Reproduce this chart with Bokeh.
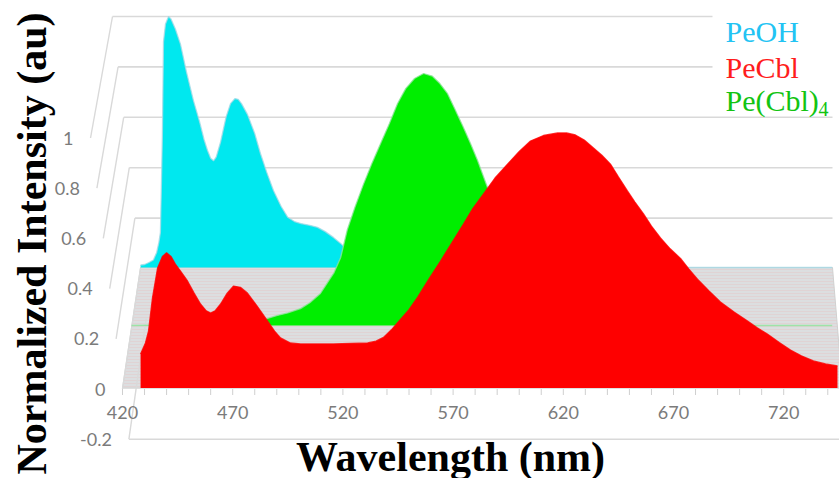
import math
from bokeh.plotting import figure
from bokeh.models import Range1d, BoxAnnotation
from bokeh.core.properties import value
from bokeh.embed import file_html
from bokeh.resources import INLINE

# ---------------- data ----------------
series_names = ["PeOH", "PeCbl", "Pe(Cbl)", "4"]

peoh_wl = [428.2, 430, 432, 434, 435.5, 436.5, 437.2, 437.7, 438.1, 438.6, 439.5, 440.9, 442, 444, 446.3,
           449, 452.2, 455, 457, 458.6, 460, 461.3, 462.5, 464.5, 467, 469, 471, 472.5, 474, 476.7,
           480, 482.6, 485.5, 488.5, 492, 495, 498, 501, 505, 508.5, 512, 515.7, 519, 522, 525,
           530, 540, 560, 600, 742]
peoh_int = [0.01, 0.012, 0.02, 0.03, 0.06, 0.1, 0.14, 0.35, 0.53, 0.9, 0.97, 1.0, 0.99, 0.95, 0.89,
            0.78, 0.665, 0.58, 0.51, 0.466, 0.435, 0.425, 0.44, 0.5, 0.6, 0.653, 0.673, 0.67, 0.653, 0.61,
            0.534, 0.454, 0.378, 0.307, 0.243, 0.2, 0.183, 0.175, 0.168, 0.16, 0.143, 0.12, 0.096, 0.07, 0.045,
            0.02, 0.01, 0.005, 0.0, 0.0]

pecbl_wl = [428.2, 430.4, 431.8, 433.6, 435.9, 438.1, 440.0, 442, 444, 446.5, 449.5, 452.5, 455.4, 458,
            460, 462, 464.5, 467.5, 470.4, 473.5, 476.7, 481, 485.8, 489, 491.7, 496.2, 500.8, 515.7,
            531.2, 535, 538.4, 542, 546, 550, 554, 559, 564.3, 569.5, 574.7, 579, 583.8, 589, 594.7,
            600, 605.1, 611, 617.4, 621.5, 625.5, 629.5, 633.7, 637.5, 641.4, 645, 649.1, 652.5, 656.4,
            660, 664.1, 668.5, 673.2, 677, 680.9, 686, 691.3, 697.5, 703.6, 708, 712.6, 718, 723.1,
            728, 733.5, 739, 744.4]
pecbl_int = [0.134, 0.178, 0.225, 0.356, 0.474, 0.52, 0.535, 0.52, 0.49, 0.46, 0.423, 0.375, 0.332, 0.305,
             0.296, 0.305, 0.332, 0.375, 0.403, 0.398, 0.375, 0.325, 0.265, 0.225, 0.198, 0.178, 0.174, 0.174,
             0.178, 0.185, 0.2, 0.23, 0.27, 0.31, 0.36, 0.43, 0.502, 0.575, 0.648, 0.71, 0.767, 0.83, 0.885,
             0.935, 0.976, 0.998, 1.008, 1.008, 1.0, 0.98, 0.949, 0.92, 0.885, 0.835, 0.779, 0.735, 0.688,
             0.64, 0.593, 0.55, 0.512, 0.47, 0.43, 0.385, 0.34, 0.3, 0.265, 0.238, 0.213, 0.18, 0.15,
             0.127, 0.107, 0.095, 0.087]

pecbl4_wl = [424.1, 480, 485.8, 490.3, 495, 500.8, 505, 509.8, 513, 516, 519, 522, 525.5, 529.3, 533,
             537.1, 541, 544.8, 548.5, 552.5, 556.6, 560.5, 564, 567.5, 571, 574.7, 578, 581.1, 585.6,
             590, 595, 600, 610, 620, 630, 650, 680, 700, 742]
pecbl4_int = [0.0, 0.005, 0.028, 0.04, 0.05, 0.067, 0.09, 0.127, 0.17, 0.21, 0.27, 0.38, 0.47, 0.56, 0.64,
              0.722, 0.80, 0.881, 0.94, 0.98, 1.0, 0.99, 0.96, 0.92, 0.855, 0.786, 0.72, 0.655, 0.548,
              0.46, 0.37, 0.28, 0.15, 0.08, 0.04, 0.015, 0.005, 0.0, 0.0]

x_ticks = [420, 470, 520, 570, 620, 670, 720]
x_minor = list(range(420, 741, 10))
y_ticks = [-0.2, 0, 0.2, 0.4, 0.6, 0.8, 1]
y_tick_labels = ["-0.2", "0", "0.2", "0.4", "0.6", "0.8", "1"]

colors = {"PeOH": "#00e8ef", "PeCbl": "#fe0000", "Pe(Cbl)4": "#00ee00"}
legend_colors = ["#22c3f3", "#ff1c1c", "#12c412"]

# ---------------- geometry of the pseudo-3D frame ----------------
PX_NM = 2.204       # pixels per nm
X0_PX = 122.0       # pixel of 420 nm
PX_UNIT = 253.0     # pixels per intensity unit
Y0_PX = 387.5       # pixel of intensity 0 (front)

def sx(px):
    return 420 + (px - X0_PX) / PX_NM

def sy(py):
    return (Y0_PX - py) / PX_UNIT

# depth rows: (baseline offset, vertical scale)
depth = {"PeOH": (sy(267), 251 / 253), "Pe(Cbl)4": (sy(325), 252 / 253), "PeCbl": (sy(387.5), 1.0)}

def front_pt(v):
    return sx(122 - 32 * v), sy(388.5 - 251 * v)

def back_pt(v):
    return sx(140 - 28 * v), sy(268 - 252 * v)

W, H = 839, 478
p = figure(width=W, height=H, output_backend="svg", toolbar_location=None,
           x_range=Range1d(sx(0), sx(W)), y_range=Range1d(sy(H), sy(0)),
           min_border=0, outline_line_color=None)
p.axis.visible = False
p.grid.visible = False
p.background_fill_color = "white"
p.border_fill_color = "white"

GRID = "#d9d9d9"

# back wall gridlines
bw = [back_pt(v) for v in y_ticks if v >= 0]
p.segment(x0=[b[0] for b in bw], y0=[b[1] for b in bw], x1=[sx(832)] * len(bw), y1=[b[1] for b in bw],
          line_color=GRID, line_width=1.6)

# floor
fx = [front_pt(0)[0], back_pt(0)[0], sx(832), sx(842)]
fy = [0.0, depth["PeOH"][0], depth["PeOH"][0], 0.0]
p.patch(fx, fy, fill_color="#dcdee0", line_color="#d0d0d0", line_width=1,
        hatch_pattern="horizontal_line", hatch_color="#e7c4c4", hatch_alpha=0.5,
        hatch_scale=3, hatch_weight=0.8)

# left wall gridlines
fw = [front_pt(v) for v in y_ticks]
bw_all = [back_pt(v) for v in y_ticks]
p.segment(x0=[f[0] for f in fw], y0=[f[1] for f in fw], x1=[b[0] for b in bw_all], y1=[b[1] for b in bw_all],
          line_color=GRID, line_width=1.4)
# front edge of the lowest level
fmin = front_pt(min(y_ticks))
p.segment(x0=[fmin[0]], y0=[fmin[1]], x1=[sx(845)], y1=[fmin[1]], line_color=GRID, line_width=1.4)

# front axis line + tick marks
p.segment(x0=[x_minor[0]], y0=[0], x1=[sx(845)], y1=[0], line_color=GRID, line_width=1)
tick_len = 6 / PX_UNIT
p.segment(x0=x_minor, y0=[-0.004] * len(x_minor), x1=x_minor, y1=[-0.004 - tick_len] * len(x_minor),
          line_color="#cfcfcf", line_width=1)

def draw_series(name, wl, vals, line_col):
    off, sc = depth[name]
    ys = [off + sc * v for v in vals]
    p.varea(x=wl, y1=[off] * len(wl), y2=ys, fill_color=colors[name])
    p.line(x=wl, y=ys, line_color=line_col, line_width=1.3, line_alpha=0.8)

draw_series("PeOH", peoh_wl, peoh_int, "#a6d9e6")
draw_series("Pe(Cbl)4", pecbl4_wl, pecbl4_int, "#8fe39a")
draw_series("PeCbl", pecbl_wl, pecbl_int, "#fe0000")

# tick labels
TICK_FONT = value("Lato")
TICK_COL = "#7b7b7b"
p.text(x=[f[0] for f in fw], y=[f[1] for f in fw], text=y_tick_labels, x_offset=-17,
       text_align="right", text_baseline="middle", text_font=TICK_FONT, text_font_size="18px",
       text_color=TICK_COL)
p.text(x=x_ticks, y=[0] * len(x_ticks), text=[str(t) for t in x_ticks], y_offset=24,
       text_align="center", text_baseline="middle", text_font=TICK_FONT, text_font_size="18px",
       text_color=TICK_COL)

# axis titles
TITLE_FONT = value("Liberation Serif")
p.text(x=[sx(31)], y=[sy(243)], text=["Normalized Intensity (au)"], angle=math.pi / 2,
       text_align="center", text_baseline="middle", text_font=TITLE_FONT,
       text_font_style="bold", text_font_size="42px", text_color="black")
p.text(x=[sx(450)], y=[sy(456)], text=["Wavelength (nm)"], text_align="center",
       text_baseline="middle", text_font=TITLE_FONT, text_font_style="bold",
       text_font_size="42px", text_color="black")

# legend
box = BoxAnnotation(left=sx(712), right=sx(845), bottom=sy(113), top=sy(-5),
                    fill_color="white", fill_alpha=1.0, line_color=None)
p.add_layout(box)
leg_x = sx(725)
leg_y = [sy(31), sy(67), sy(100)]
r1 = p.text(x=[leg_x] * 3, y=leg_y, text=["PeOH", "PeCbl", "Pe(Cbl)"], text_color=legend_colors,
            text_align="left", text_baseline="middle", text_font=TITLE_FONT, text_font_size="30px")
r2 = p.text(x=[leg_x], y=[leg_y[2]], text=[series_names[3]], x_offset=93, y_offset=8,
            text_color=legend_colors[2], text_align="left", text_baseline="middle",
            text_font=TITLE_FONT, text_font_size="20px")
r1.level = "overlay"
r2.level = "overlay"

open("out.html", "w").write(file_html(p, INLINE))
